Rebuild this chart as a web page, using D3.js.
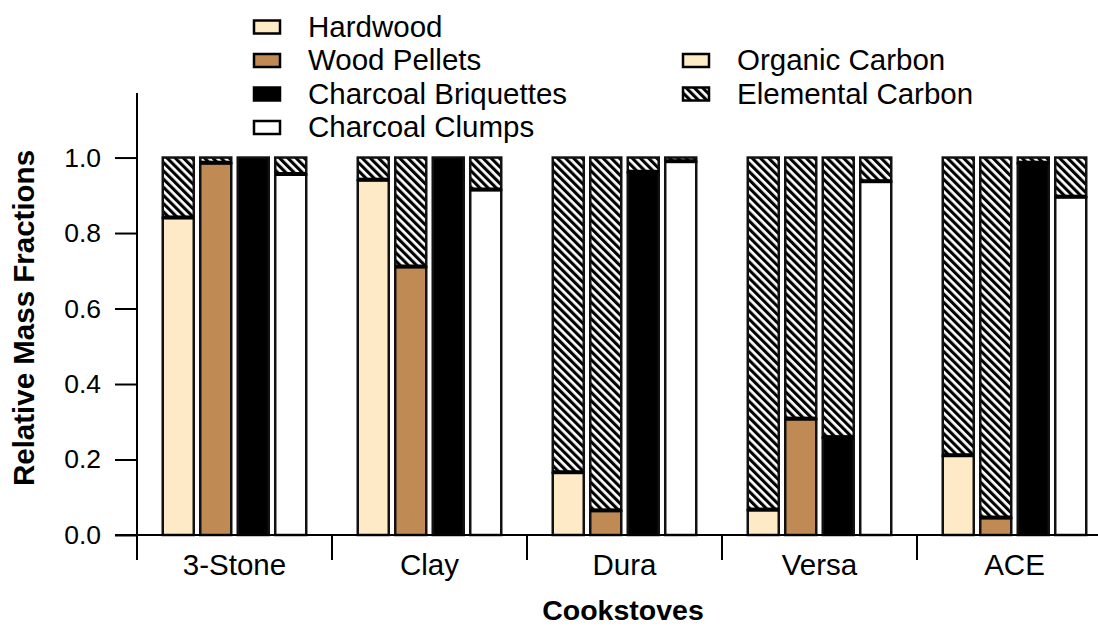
<!DOCTYPE html>
<html>
<head>
<meta charset="utf-8">
<script src="https://cdn.jsdelivr.net/npm/d3@7"></script>
<style>
  html, body { margin: 0; padding: 0; background: #fff; }
  svg { display: block; font-family: "Liberation Sans", Arial, sans-serif; }
</style>
</head>
<body>
<svg id="chart" width="1098" height="628"></svg>
<script>
// ---- data ----
const stoves = ["3-Stone", "Clay", "Dura", "Versa", "ACE"];
const fuels = ["Hardwood", "Wood Pellets", "Charcoal Briquettes", "Charcoal Clumps"];
// Organic carbon fraction for each fuel, by stove
const ocHardwood   = [0.84, 0.94, 0.165, 0.066, 0.21];
const ocPellets    = [0.985, 0.71, 0.064, 0.307, 0.045];
const ocBriquettes = [1.0, 1.0, 0.961, 0.258, 0.985];
const ocClumps     = [0.955, 0.914, 0.989, 0.936, 0.895];
// Elemental carbon fraction for each fuel, by stove
const ecHardwood   = [0.16, 0.06, 0.835, 0.934, 0.79];
const ecPellets    = [0.015, 0.29, 0.936, 0.693, 0.955];
const ecBriquettes = [0.0, 0.0, 0.039, 0.742, 0.015];
const ecClumps     = [0.045, 0.086, 0.011, 0.064, 0.105];
const yTicks = [0, 0.2, 0.4, 0.6, 0.8, 1.0];
const fuelColors = ["#FEEAC6", "#C08A55", "#000000", "#FFFFFF"];

const ocByFuel = [ocHardwood, ocPellets, ocBriquettes, ocClumps];
const ecByFuel = [ecHardwood, ecPellets, ecBriquettes, ecClumps];

const rows = [];
stoves.forEach((s, si) => {
  fuels.forEach((f, fi) => {
    rows.push({ stove: s, fuel: f, fi, oc: ocByFuel[fi][si], ec: ecByFuel[fi][si] });
  });
});

// ---- layout ----
const svg = d3.select("#chart");
const axisX = 137, y0px = 535, yTopPx = 93;

const x = d3.scaleBand().domain(stoves).range([axisX, axisX + 195 * stoves.length]);
const xi = d3.scaleBand().domain(fuels).range([0, x.bandwidth()])
  .paddingInner(0.173).paddingOuter(0.687);
const y = d3.scaleLinear().domain([0, 1.171]).range([y0px, yTopPx]);
const color = d3.scaleOrdinal().domain(fuels).range(fuelColors);

// hatch pattern
const defs = svg.append("defs");
const pat = defs.append("pattern")
  .attr("id", "hatch")
  .attr("patternUnits", "userSpaceOnUse")
  .attr("width", 5.8).attr("height", 10)
  .attr("patternTransform", "rotate(-45)");
pat.append("rect").attr("width", 5.8).attr("height", 10).attr("fill", "#fff");
pat.append("rect").attr("width", 3.1).attr("height", 10).attr("fill", "#000");

// ---- bars ----
const barG = svg.append("g");
const bars = barG.selectAll("g.bar").data(rows).join("g")
  .attr("class", "bar")
  .attr("transform", d => `translate(${x(d.stove) + xi(d.fuel)},0)`);

// EC segment (hatched) on top of OC
bars.filter(d => d.ec > 0.001).append("rect")
  .attr("x", 0)
  .attr("width", xi.bandwidth())
  .attr("y", d => y(d.oc + d.ec))
  .attr("height", d => y(d.oc) - y(d.oc + d.ec))
  .attr("fill", "url(#hatch)")
  .attr("stroke", "#111")
  .attr("stroke-width", 2.5);

// OC segment
bars.append("rect")
  .attr("x", 0)
  .attr("width", xi.bandwidth())
  .attr("y", d => y(d.oc))
  .attr("height", d => y(0) - y(d.oc))
  .attr("fill", d => color(d.fuel))
  .attr("stroke", "#111")
  .attr("stroke-width", 2.5);

// separator between OC and EC
bars.filter(d => d.ec > 0.001).append("line")
  .attr("x1", 0).attr("x2", xi.bandwidth())
  .attr("y1", d => y(d.oc) - 0.5).attr("y2", d => y(d.oc) - 0.5)
  .attr("stroke", "#000").attr("stroke-width", 4);

// ---- axes ----
const yAxis = d3.axisLeft(y).tickValues(yTicks).tickFormat(d3.format(".1f"))
  .tickSize(22).tickPadding(14);
const gy = svg.append("g").attr("transform", `translate(${axisX},0)`).call(yAxis);
gy.select(".domain").remove();
gy.selectAll(".tick line").attr("stroke", "#000").attr("stroke-width", 2);
gy.selectAll(".tick text").attr("font-size", 26.5).attr("fill", "#000")
  .attr("font-family", "Liberation Sans, Arial, sans-serif");
gy.append("line").attr("x1", 0).attr("x2", 0).attr("y1", yTopPx).attr("y2", 560)
  .attr("stroke", "#000").attr("stroke-width", 2);

// x axis line
svg.append("line").attr("x1", 115).attr("x2", 1098).attr("y1", y0px).attr("y2", y0px)
  .attr("stroke", "#000").attr("stroke-width", 2);

// group separators (band edges)
svg.append("g").selectAll("line").data(stoves.slice(1)).join("line")
  .attr("x1", d => x(d)).attr("x2", d => x(d))
  .attr("y1", y0px).attr("y2", 560)
  .attr("stroke", "#000").attr("stroke-width", 2);

// category labels
svg.append("g").selectAll("text").data(stoves).join("text")
  .attr("x", d => x(d) + x.bandwidth() / 2)
  .attr("y", 575)
  .attr("text-anchor", "middle")
  .attr("font-size", 29.5)
  .attr("fill", "#000")
  .text(d => d);

// axis titles
svg.append("text")
  .attr("x", 623).attr("y", 620)
  .attr("text-anchor", "middle")
  .attr("font-size", 28.5).attr("font-weight", "bold")
  .text("Cookstoves");
svg.append("text")
  .attr("transform", "translate(34,318) rotate(-90)")
  .attr("text-anchor", "middle")
  .attr("font-size", 29.5).attr("font-weight", "bold")
  .text("Relative Mass Fractions");

// ---- legend ----
const legendItems = [
  { label: "Hardwood", fill: color("Hardwood"), x: 253, y: 27 },
  { label: "Wood Pellets", fill: color("Wood Pellets"), x: 253, y: 60.5 },
  { label: "Charcoal Briquettes", fill: color("Charcoal Briquettes"), x: 253, y: 94 },
  { label: "Charcoal Clumps", fill: color("Charcoal Clumps"), x: 253, y: 127.5 },
  { label: "Organic Carbon", fill: color("Hardwood"), x: 682, y: 60.5 },
  { label: "Elemental Carbon", fill: "url(#hatch)", x: 682, y: 94 }
];
const lg = svg.append("g").selectAll("g").data(legendItems).join("g")
  .attr("transform", d => `translate(${d.x},${d.y})`);
lg.append("rect").attr("x", 1).attr("y", -6.5).attr("width", 26).attr("height", 13)
  .attr("fill", d => d.fill).attr("stroke", "#000").attr("stroke-width", 2.5);
lg.append("text").attr("x", 55).attr("y", 9.5)
  .attr("font-size", 29.5).attr("fill", "#000")
  .text(d => d.label);
</script>
</body>
</html>
